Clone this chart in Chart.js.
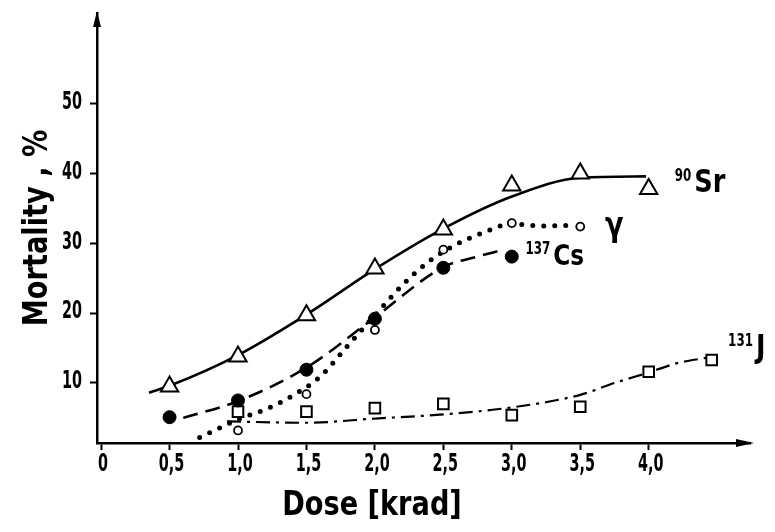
<!DOCTYPE html>
<html>
<head>
<meta charset="utf-8">
<script src="https://cdn.jsdelivr.net/npm/chart.js@4.4.0/dist/chart.umd.min.js"></script>
<style>
  body { margin: 0; background: #fff; }
  canvas { display: block; }
</style>
</head>
<body>
<canvas id="chart" width="775" height="532"></canvas>
<script>
// measured points
const srDose = [0.5, 1.0, 1.5, 2.0, 2.5, 3.0, 3.5, 4.0];
const srMort = [9.5, 13.8, 19.7, 26.4, 32.0, 38.3, 40.0, 37.8];
const csDose = [0.5, 1.0, 1.5, 2.0, 2.5, 3.0];
const csMort = [5.1, 7.5, 11.9, 19.2, 26.5, 28.1];
const gammaDose = [1.0, 1.5, 2.0, 2.5, 3.0, 3.5];
const gammaMort = [3.2, 8.4, 17.6, 29.1, 32.9, 32.4];
const jDose = [1.0, 1.5, 2.0, 2.5, 3.0, 3.5, 4.0, 4.46];
const jMort = [5.9, 5.9, 6.4, 7.0, 5.4, 6.6, 11.6, 13.3];

// fitted curves
const srCurveX = [0.35, 0.5, 1.0, 1.5, 2.0, 2.5, 3.0, 3.5, 3.98];
const srCurveY = [8.6, 9.6, 14.0, 19.8, 26.3, 32.1, 36.7, 39.4, 39.6];
const csCurveX = [0.6, 1.0, 1.5, 2.0, 2.5, 2.75, 2.92];
const csCurveY = [5.0, 7.4, 12.2, 19.4, 26.6, 28.1, 29.0];
const gammaCurveX = [0.72, 0.85, 1.0, 1.2, 1.4, 1.6, 1.8, 2.0, 2.2, 2.4, 2.6, 2.8, 3.0, 3.2, 3.45];
const gammaCurveY = [2.2, 3.4, 4.8, 6.2, 8.2, 10.9, 15.3, 19.7, 24.0, 27.5, 29.9, 31.6, 32.8, 32.5, 32.6];
const jCurveX = [0.92, 1.5, 2.0, 2.5, 3.0, 3.5, 3.75, 4.0, 4.2, 4.42];
const jCurveY = [4.5, 4.3, 4.9, 5.5, 6.5, 8.3, 10.0, 11.5, 12.8, 13.6];

const xTicks = [0, 0.5, 1.0, 1.5, 2.0, 2.5, 3.0, 3.5, 4.0];
const yTicks = [10, 20, 30, 40, 50];

const FONT = "'DejaVu Sans', sans-serif";

function fmtDose(v) {
    return v === 0 ? '0' : v.toFixed(1).replace('.', ',');
}

function pts(xs, ys) {
    return xs.map((x, i) => ({ x: x, y: ys[i] }));
}

function markers(xs, ys, style, radius, fill, bw) {
    return {
        data: pts(xs, ys),
        showLine: false,
        pointStyle: style,
        pointRadius: radius,
        pointBackgroundColor: fill,
        pointBorderColor: '#000',
        pointBorderWidth: bw,
        order: 0
    };
}

function curve(xs, ys, dash, width, cap) {
    return {
        data: pts(xs, ys),
        showLine: true,
        pointRadius: 0,
        borderColor: '#000',
        borderWidth: width,
        borderDash: dash,
        borderCapStyle: cap || 'butt',
        cubicInterpolationMode: 'monotone',
        order: 1
    };
}

// narrow text, like the condensed lettering of the original
function narrowText(ctx, text, x, y, squeeze) {
    ctx.save();
    ctx.translate(x, y);
    ctx.scale(squeeze, 1);
    ctx.fillText(text, 0, 0);
    ctx.restore();
}

// tick labels, axis arrows, axis titles and curve labels
const decorPlugin = {
    id: 'decor',
    afterDraw(chart) {
        const ctx = chart.ctx;
        const a = chart.chartArea;
        const xs = chart.scales.x, ys = chart.scales.y;
        ctx.save();
        ctx.fillStyle = '#000';

        // tick labels
        ctx.font = 'bold 24px ' + FONT;
        ctx.textBaseline = 'middle';
        ctx.textAlign = 'center';
        xs.ticks.forEach(t => {
            narrowText(ctx, fmtDose(t.value), xs.getPixelForValue(t.value) + 2, a.bottom + 22, 0.6);
        });
        ctx.textAlign = 'right';
        ys.ticks.forEach(t => {
            narrowText(ctx, String(t.value), a.left - 15, ys.getPixelForValue(t.value) - 1, 0.6);
        });

        // arrow heads
        ctx.beginPath();
        ctx.moveTo(a.left, a.top - 2);
        ctx.lineTo(a.left - 4, a.top + 14);
        ctx.lineTo(a.left + 4, a.top + 14);
        ctx.closePath();
        ctx.fill();
        ctx.beginPath();
        ctx.moveTo(a.right + 4, a.bottom);
        ctx.lineTo(a.right - 14, a.bottom - 4);
        ctx.lineTo(a.right - 14, a.bottom + 4);
        ctx.closePath();
        ctx.fill();

        // titles
        ctx.textAlign = 'center';
        ctx.textBaseline = 'middle';
        ctx.font = 'bold 34px ' + FONT;
        narrowText(ctx, 'Dose [krad]', 372, 506, 0.8);
        ctx.save();
        ctx.translate(38, 228);
        ctx.rotate(-Math.PI / 2);
        narrowText(ctx, 'Mortality , %', 0, 0, 0.8);
        ctx.restore();

        // curve labels
        const labels = [
            { sup: '90', main: 'Sr', x: 4.19, y: 37.4, size: 32 },
            { sup: '137', main: 'Cs', x: 3.10, y: 26.9, size: 29 },
            { sup: '131', main: 'J', x: 4.58, y: 13.7, size: 32 },
            { sup: '', main: 'γ', x: 3.68, y: 31.1, size: 34 }
        ];
        ctx.textAlign = 'left';
        ctx.textBaseline = 'alphabetic';
        labels.forEach(l => {
            let px = xs.getPixelForValue(l.x);
            const py = ys.getPixelForValue(l.y);
            if (l.sup) {
                ctx.font = 'bold 17px ' + FONT;
                narrowText(ctx, l.sup, px, py - 11, 0.7);
                px += ctx.measureText(l.sup).width * 0.7 + 3;
            }
            ctx.font = 'bold ' + l.size + 'px ' + FONT;
            narrowText(ctx, l.main, px, py, 0.8);
        });
        ctx.restore();
    }
};

new Chart(document.getElementById('chart'), {
    type: 'scatter',
    data: {
        datasets: [
            markers(srDose, srMort, 'triangle', 10, '#fff', 2),
            markers(csDose, csMort, 'circle', 6.5, '#000', 1),
            markers(gammaDose, gammaMort, 'circle', 4, '#fff', 1.8),
            markers(jDose, jMort, 'rect', 7.5, '#fff', 2),
            curve(srCurveX, srCurveY, [], 2.6),
            curve(csCurveX, csCurveY, [15, 8], 2.6),
            curve(gammaCurveX, gammaCurveY, [0, 11], 5, 'round'),
            curve(jCurveX, jCurveY, [14, 6, 3, 6], 2.2)
        ]
    },
    options: {
        responsive: false,
        animation: false,
        layout: { padding: { top: 13, right: 25, left: 0, bottom: 0 } },
        plugins: { legend: { display: false }, tooltip: { enabled: false } },
        scales: {
            x: {
                type: 'linear',
                min: -0.03,
                max: 4.74,
                afterBuildTicks: s => { s.ticks = xTicks.map(v => ({ value: v })); },
                afterFit: s => { s.height = 89; },
                ticks: { display: false },
                grid: { drawOnChartArea: false, tickLength: 7, tickColor: '#000', tickWidth: 2 },
                border: { color: '#000', width: 2.5 }
            },
            y: {
                min: 1.4,
                max: 63,
                afterBuildTicks: s => { s.ticks = yTicks.map(v => ({ value: v })); },
                afterFit: s => { s.width = 97; },
                ticks: { display: false },
                grid: { drawOnChartArea: false, tickLength: 7, tickColor: '#000', tickWidth: 2 },
                border: { color: '#000', width: 2.5 }
            }
        }
    },
    plugins: [decorPlugin]
});
</script>
</body>
</html>
